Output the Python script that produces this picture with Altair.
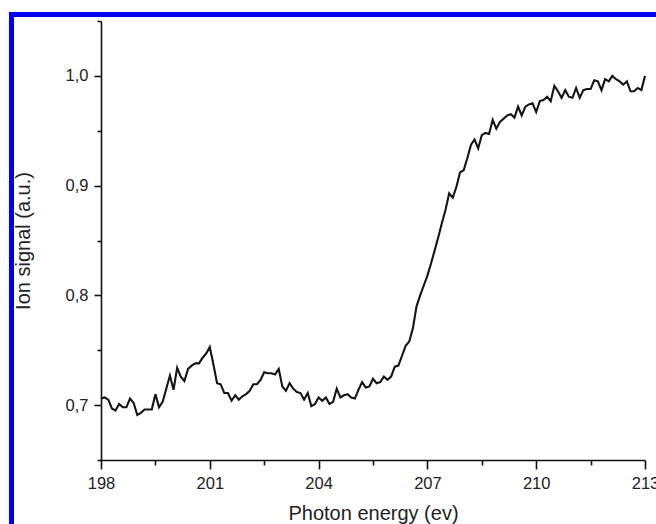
import altair as alt
import pandas as pd

energy = [
    198.0, 198.1, 198.2, 198.3, 198.4, 198.5, 198.6, 198.7, 198.8, 198.9,
    199.0, 199.1, 199.2, 199.3, 199.4, 199.5, 199.6, 199.7, 199.8, 199.9,
    200.0, 200.1, 200.2, 200.3, 200.4, 200.5, 200.6, 200.7, 200.8, 200.9,
    201.0, 201.1, 201.2, 201.3, 201.4, 201.5, 201.6, 201.7, 201.8, 201.9,
    202.0, 202.1, 202.2, 202.3, 202.4, 202.5, 202.6, 202.7, 202.8, 202.9,
    203.0, 203.1, 203.2, 203.3, 203.4, 203.5, 203.6, 203.7, 203.8, 203.9,
    204.0, 204.1, 204.2, 204.3, 204.4, 204.5, 204.6, 204.7, 204.8, 204.9,
    205.0, 205.1, 205.2, 205.3, 205.4, 205.5, 205.6, 205.7, 205.8, 205.9,
    206.0, 206.1, 206.2, 206.3, 206.4, 206.5, 206.6, 206.7, 206.8, 206.9,
    207.0, 207.1, 207.2, 207.3, 207.4, 207.5, 207.6, 207.7, 207.8, 207.9,
    208.0, 208.1, 208.2, 208.3, 208.4, 208.5, 208.6, 208.7, 208.8, 208.9,
    209.0, 209.1, 209.2, 209.3, 209.4, 209.5, 209.6, 209.7, 209.8, 209.9,
    210.0, 210.1, 210.2, 210.3, 210.4, 210.5, 210.6, 210.7, 210.8, 210.9,
    211.0, 211.1, 211.2, 211.3, 211.4, 211.5, 211.6, 211.7, 211.8, 211.9,
    212.0, 212.1, 212.2, 212.3, 212.4, 212.5, 212.6, 212.7, 212.8, 212.9,
    213.0,
]

signal = [
    0.706, 0.707, 0.705, 0.697, 0.695, 0.701, 0.698, 0.698, 0.706, 0.702,
    0.691, 0.693, 0.696, 0.696, 0.696, 0.710, 0.698, 0.703, 0.715, 0.727,
    0.714, 0.734, 0.726, 0.722, 0.733, 0.736, 0.738, 0.738, 0.743, 0.747,
    0.753, 0.737, 0.720, 0.719, 0.711, 0.711, 0.704, 0.709, 0.705, 0.708,
    0.710, 0.713, 0.719, 0.719, 0.723, 0.730, 0.729, 0.729, 0.728, 0.733,
    0.717, 0.713, 0.720, 0.715, 0.712, 0.711, 0.705, 0.711, 0.699, 0.701,
    0.707, 0.704, 0.707, 0.701, 0.703, 0.715, 0.707, 0.709, 0.710, 0.707,
    0.706, 0.714, 0.721, 0.716, 0.717, 0.724, 0.720, 0.721, 0.726, 0.723,
    0.726, 0.735, 0.736, 0.745, 0.754, 0.758, 0.770, 0.790, 0.800, 0.809,
    0.818, 0.829, 0.841, 0.853, 0.866, 0.878, 0.893, 0.889, 0.899, 0.912,
    0.914, 0.925, 0.937, 0.942, 0.934, 0.946, 0.948, 0.947, 0.960, 0.952,
    0.958, 0.961, 0.964, 0.965, 0.962, 0.972, 0.964, 0.972, 0.974, 0.975,
    0.967, 0.977, 0.978, 0.981, 0.977, 0.991, 0.986, 0.980, 0.987, 0.981,
    0.980, 0.989, 0.980, 0.987, 0.988, 0.988, 0.996, 0.995, 0.987, 0.997,
    0.995, 1.000, 0.997, 0.995, 0.992, 0.995, 0.986, 0.986, 0.989, 0.987,
    1.000,
]

x_ticks = [198, 199.5, 201, 202.5, 204, 205.5, 207, 208.5, 210, 211.5, 213]
y_ticks = [0.65, 0.7, 0.75, 0.8, 0.85, 0.9, 0.95, 1.0, 1.05]

df = pd.DataFrame({"energy": energy, "signal": signal})
one = pd.DataFrame({"k": [0]})

FONT = "Liberation Sans"
TXT = "#222222"

x_axis = alt.Axis(
    values=x_ticks,
    title="Photon energy (ev)",
    titleFont=FONT, titleFontSize=20, titleFontWeight="normal", titleColor=TXT,
    titleBaseline="alphabetic", titleX=272, titleY=59,
    labelFont=FONT, labelFontSize=16.5, labelColor=TXT, labelPadding=6,
    labelExpr="datum.value % 3 == 0 ? datum.label : ''",
    labelFlush=False, labelOverlap=False,
    tickSize={"condition": {"test": "datum.value % 3 == 0", "value": 9}, "value": 5},
    tickColor="#111111", tickWidth=1.6,
    domainColor="#111111", domainWidth=1.6, grid=False,
)

y_axis = alt.Axis(
    values=y_ticks,
    title="Ion signal (a.u.)",
    titleFont=FONT, titleFontSize=20, titleFontWeight="normal", titleColor=TXT,
    titleX=-68, titleY=219.5, titleAngle=270, titleBaseline="bottom", titleAlign="center",
    labelFont=FONT, labelFontSize=16.5, labelColor=TXT, labelPadding=6,
    labelExpr="abs(datum.value*10 - round(datum.value*10)) < 0.001 ? replace(format(datum.value, '.1f'), '.', ',') : ''",
    labelOverlap=False,
    tickSize={"condition": {"test": "abs(datum.value*10 - round(datum.value*10)) < 0.001", "value": 7}, "value": 4},
    tickColor="#111111", tickWidth=1.6,
    domainColor="#111111", domainWidth=1.6, grid=False,
)

line = alt.Chart(df).mark_line(color="#141414", strokeWidth=2.1).encode(
    x=alt.X("energy:Q", scale=alt.Scale(domain=[198, 213], nice=False, zero=False), axis=x_axis),
    y=alt.Y("signal:Q", scale=alt.Scale(domain=[0.65, 1.05], nice=False, zero=False), axis=y_axis),
)

border_left = alt.Chart(one).mark_rule(color="#0000f0", strokeWidth=5).encode(
    x=alt.value(-89.5), y=alt.value(-9), y2=alt.value(520)
)
border_top = alt.Chart(one).mark_rule(color="#0000f0", strokeWidth=5).encode(
    x=alt.value(-92), x2=alt.value(570), y=alt.value(-6.5)
)

chart = alt.layer(line, border_left, border_top).properties(
    width=544,
    height=439,
    autosize=alt.AutoSizeParams(type="none"),
    padding={"left": 101, "top": 21, "right": 11, "bottom": 64},
    background="white",
).configure_view(stroke=None)

chart.save("out.html", embed_options={"renderer": "svg", "actions": False})
